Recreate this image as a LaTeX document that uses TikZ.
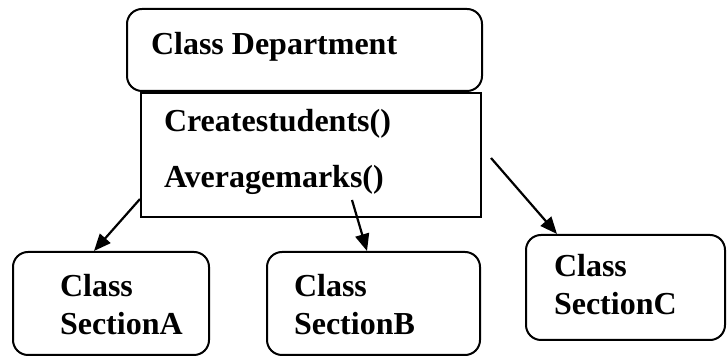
\documentclass[tikz,border=0pt]{standalone}
\usepackage{fontspec}
\setmainfont{Liberation Serif}
\usetikzlibrary{positioning, arrows.meta, calc}

\begin{document}
\begin{tikzpicture}[x=0.5pt, y=-0.5pt, line width=1pt,
    font=\fontsize{16}{19}\selectfont\bfseries]
  \tikzset{
    classbox/.style={draw, rounded corners=7.5pt, inner sep=0pt},
    methbox/.style={draw, inner sep=0pt},
    boxtext/.style={anchor=base west, inner sep=0pt, align=left},
    link/.style={-{Triangle[length=8.5pt, width=7pt]}, line width=1.1pt}
  }
  \useasboundingbox (0,0) rectangle (727,356);

  % the department class with its methods
  \node[classbox, minimum width=177.5pt, minimum height=41pt] (dept) at (304.5,50) {};
  \node[methbox, minimum width=170pt, minimum height=62pt] (meth) at (311,155) {};
  \node[boxtext] (deptname) at (150,55) {Class Department};
  \node[boxtext] (create) at (163,132) {Createstudents()};
  \node[boxtext] (average) at (163,188) {Averagemarks()};

  % the section classes (base = last line)
  \node[classbox, minimum width=98pt, minimum height=51.5pt] (secA) at (111,303.5) {};
  \node[classbox, minimum width=106.5pt, minimum height=51.5pt] (secB) at (373.5,303.5) {};
  \node[classbox, minimum width=99.5pt, minimum height=52.5pt] (secC) at (625.5,287.5) {};
  \node[boxtext] (nameA) at (59,335) {Class\\SectionA};
  \node[boxtext] (nameB) at (293,335) {Class\\SectionB};
  \node[boxtext] (nameC) at (553,315) {Class\\SectionC};

  % arrows
  \coordinate (fromA) at ($(meth.south west)+(0,-19)$);
  \coordinate (fromB) at ($(meth.south west)+(212,-18)$);
  \coordinate (fromC) at ($(meth.east)+(9,3)$);
  \draw[link] (fromA) -- ($(secA.north west)+(82,0)$);
  \draw[link] (fromB) -- ($(secB.north west)+(101,0)$);
  \draw[link] (fromC) -- ($(secC.north west)+(32,0)$);
\end{tikzpicture}
\end{document}
